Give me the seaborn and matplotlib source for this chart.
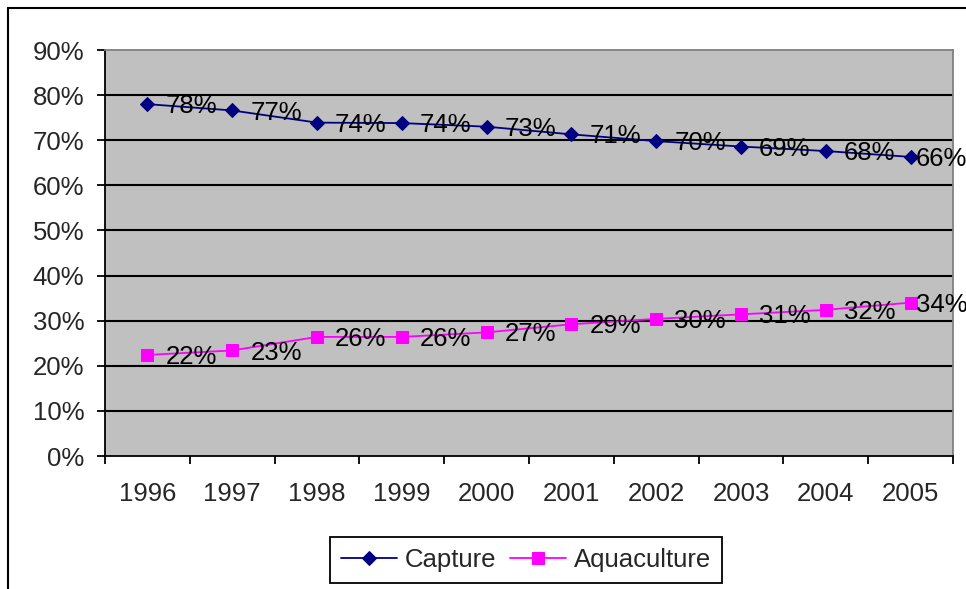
import pandas as pd
import matplotlib
matplotlib.use('Agg')
import matplotlib.pyplot as plt
import seaborn as sns
from matplotlib.patches import Rectangle
from matplotlib.ticker import FixedLocator

# Share of production by source, 1996-2005
years = ['1996', '1997', '1998', '1999', '2000', '2001', '2002', '2003', '2004', '2005']
capture = [78.0, 76.6, 73.9, 73.8, 73.0, 71.3, 69.8, 68.6, 67.6, 66.3]
aquaculture = [22.4, 23.4, 26.4, 26.4, 27.4, 29.2, 30.4, 31.4, 32.4, 34.0]
y_ticks = [0, 10, 20, 30, 40, 50, 60, 70, 80, 90]

sns.set_style('white')
plt.rcParams['font.family'] = ['Liberation Sans', 'DejaVu Sans']

df = pd.DataFrame({'pos': range(len(years)), 'year': years,
                   'Capture': capture, 'Aquaculture': aquaculture})

fig = plt.figure(figsize=(9.66, 5.89), dpi=100)
ax = fig.add_axes([105 / 966, 1 - 456 / 589, 848 / 966, 406 / 589])
ax.set_facecolor('#C0C0C0')

# horizontal gridlines
for t in y_ticks[1:-1]:
    ax.axhline(t, color='black', lw=1.5, zorder=1)

sns.lineplot(data=df, x='pos', y='Capture', ax=ax, color='#000080', marker='D',
             markersize=7, markeredgecolor='#000080', lw=1.3, label='Capture', zorder=3)
sns.lineplot(data=df, x='pos', y='Aquaculture', ax=ax, color='#FF00FF', marker='s',
             markersize=8.5, markeredgecolor='#FF00FF', lw=1.3, label='Aquaculture', zorder=3)

# data labels to the right of each point
n = len(years)
for series in (capture, aquaculture):
    for i, v in enumerate(series):
        dx = 4 if i == n - 1 else 13
        ax.annotate(f'{round(v):.0f}%', (i, v), xytext=(dx, -1.5), textcoords='offset points',
                    ha='left', va='center', fontsize=18.5, color='black', zorder=4)

ax.set_xlim(-0.5, n - 0.5)
ax.set_ylim(0, 90)
ax.set_xticks(range(n))
ax.set_xticklabels(years, fontsize=18.5)
ax.xaxis.set_minor_locator(FixedLocator([i - 0.5 for i in range(n + 1)]))
ax.tick_params(axis='x', which='major', length=0, pad=19)
ax.tick_params(axis='x', which='minor', length=6, width=1.3, color='black', bottom=True)
ax.set_yticks(y_ticks)
ax.set_yticklabels([f'{t}%' for t in y_ticks], fontsize=18.5)
ax.tick_params(axis='y', length=6, width=1.3, color='black', left=True, pad=9)
ax.set_xlabel('')
ax.set_ylabel('')

for side in ('left', 'bottom'):
    ax.spines[side].set_color('black')
    ax.spines[side].set_linewidth(1.3)
for side in ('top', 'right'):
    ax.spines[side].set_color('#808080')
    ax.spines[side].set_linewidth(1.3)

ax.legend_.remove()
handles, labels = ax.get_legend_handles_labels()
leg = fig.legend(handles, labels, loc='center', bbox_to_anchor=(526 / 966, 1 - 560 / 589),
                 ncol=2, fontsize=18.5, frameon=True, fancybox=False, edgecolor='black',
                 framealpha=1, handlelength=2.2, handletextpad=0.3, columnspacing=0.5,
                 borderpad=0.42)
leg.get_frame().set_linewidth(1.3)

# outer chart frame
fig.patches.append(Rectangle((8 / 966, -0.1), 1.2, 1.1 - 8 / 589, transform=fig.transFigure,
                             fill=False, edgecolor='black', lw=1.5))

fig.savefig('out.png', dpi=100)
